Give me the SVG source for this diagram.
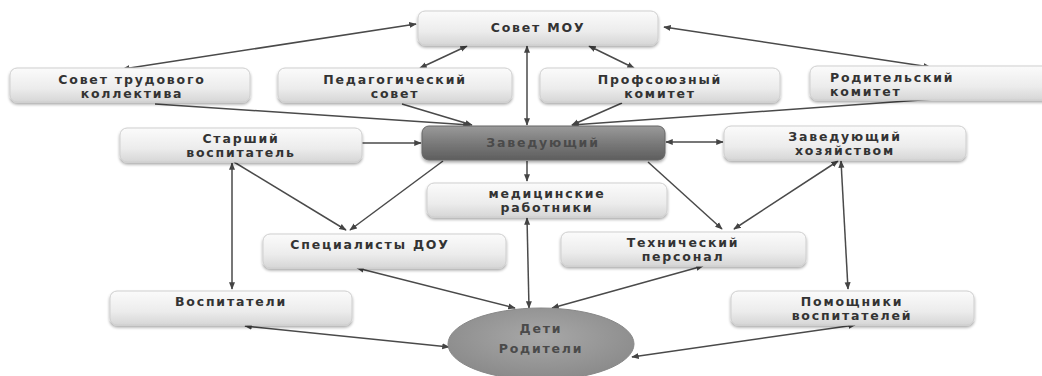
<svg xmlns="http://www.w3.org/2000/svg" width="1042" height="376" viewBox="0 0 1042 376">
<defs>
<linearGradient id="gn" x1="0" y1="0" x2="0" y2="1">
<stop offset="0" stop-color="#fbfbfb"/><stop offset="0.6" stop-color="#ececec"/><stop offset="1" stop-color="#d6d6d6"/>
</linearGradient>
<linearGradient id="gd" x1="0" y1="0" x2="0" y2="1">
<stop offset="0" stop-color="#9a9a9a"/><stop offset="0.5" stop-color="#7a7a7a"/><stop offset="1" stop-color="#5e5e5e"/>
</linearGradient>
<radialGradient id="ge" cx="0.5" cy="0.4" r="0.6">
<stop offset="0" stop-color="#a8a8a8"/><stop offset="1" stop-color="#8a8a8a"/>
</radialGradient>
<filter id="sh" x="-5%" y="-20%" width="110%" height="150%">
<feGaussianBlur in="SourceAlpha" stdDeviation="1.5"/><feOffset dx="0" dy="2"/>
<feComponentTransfer><feFuncA type="linear" slope="0.35"/></feComponentTransfer>
<feMerge><feMergeNode/><feMergeNode in="SourceGraphic"/></feMerge>
</filter>
<marker id="ah" viewBox="0 0 10 10" refX="9" refY="5" markerWidth="5" markerHeight="5" orient="auto-start-reverse">
<path d="M0,1 L10,5 L0,9 z" fill="#444"/>
</marker>
</defs>
<style>
.n{fill:url(#gn);stroke:#cfcfcf;stroke-width:1;filter:url(#sh)}
.d{fill:url(#gd);stroke:#666;stroke-width:1;filter:url(#sh)}
.e{fill:url(#ge);stroke:#888;stroke-width:1}
text{font-family:"DejaVu Sans","Liberation Sans",sans-serif;font-weight:bold;font-size:12.5px;letter-spacing:1.8px;fill:#333;text-anchor:middle}
.l{text-anchor:start}
.td{fill:#4a4a4a}
.c{stroke:#4a4a4a;stroke-width:1.5;fill:none}
.b{marker-start:url(#ah);marker-end:url(#ah)}
.a{marker-end:url(#ah)}
</style>
<rect width="1042" height="376" fill="#ffffff"/>
<g id="connectors">
<line class="c b" x1="416" y1="24" x2="123" y2="69"/>
<line class="c b" x1="467" y1="46" x2="420" y2="68"/>
<line class="c b" x1="589" y1="46" x2="634" y2="68"/>
<line class="c b" x1="664" y1="27" x2="930" y2="67"/>
<line class="c b" x1="527" y1="46" x2="527" y2="125"/>
<line class="c a" x1="155" y1="104" x2="470" y2="125"/>
<line class="c a" x1="402" y1="104" x2="472" y2="125"/>
<line class="c a" x1="622" y1="103" x2="572" y2="125"/>
<line class="c a" x1="935" y1="99" x2="572" y2="125"/>
<line class="c a" x1="362" y1="143" x2="421" y2="143"/>
<line class="c b" x1="666" y1="142" x2="723" y2="142"/>
<line class="c a" x1="527" y1="161" x2="527" y2="181"/>
<line class="c a" x1="234" y1="162" x2="346" y2="230"/>
<line class="c a" x1="443" y1="161" x2="350" y2="230"/>
<line class="c b" x1="232" y1="163" x2="232" y2="289"/>
<line class="c a" x1="648" y1="162" x2="722" y2="229"/>
<line class="c b" x1="838" y1="161" x2="734" y2="229"/>
<line class="c b" x1="841" y1="161" x2="848" y2="289"/>
<line class="c b" x1="357" y1="268" x2="515" y2="308"/>
<line class="c b" x1="527" y1="218" x2="529" y2="308"/>
<line class="c b" x1="703" y1="266" x2="552" y2="308"/>
<line class="c b" x1="245" y1="326" x2="449" y2="347"/>
<line class="c b" x1="855" y1="325" x2="632" y2="357"/>
</g>
<g id="sovet-mou"><rect class="n" x="418" y="11" width="240" height="34" rx="7"/><text x="538" y="32">Совет МОУ</text></g>
<g id="sovet-trud"><rect class="n" x="10" y="68" width="240" height="34" rx="7"/><text x="132" y="84">Совет трудового</text><text x="132" y="98">коллектива</text></g>
<g id="ped-sovet"><rect class="n" x="278" y="68" width="234" height="34" rx="7"/><text x="395" y="84">Педагогический</text><text x="395" y="98">совет</text></g>
<g id="prof-kom"><rect class="n" x="540" y="68" width="240" height="34" rx="7"/><text x="660" y="84">Профсоюзный</text><text x="660" y="98">комитет</text></g>
<g id="rod-kom"><rect class="n" x="810" y="66" width="240" height="34" rx="7"/><text class="l" x="830" y="82">Родительский</text><text class="l" x="830" y="96">комитет</text></g>
<g id="st-vosp"><rect class="n" x="120" y="128" width="242" height="34" rx="7"/><text x="241" y="143">Старший</text><text x="241" y="157">воспитатель</text></g>
<g id="zav"><rect class="d" x="422" y="126" width="243" height="34" rx="7"/><text class="td" x="543" y="147">Заведующий</text></g>
<g id="zav-hoz"><rect class="n" x="724" y="126" width="242" height="34" rx="7"/><text x="845" y="141">Заведующий</text><text x="845" y="155">хозяйством</text></g>
<g id="med"><rect class="n" x="427" y="183" width="240" height="34" rx="7"/><text x="547" y="198">медицинские</text><text x="547" y="212">работники</text></g>
<g id="spec"><rect class="n" x="263" y="234" width="243" height="34" rx="7"/><text x="370" y="249">Специалисты ДОУ</text></g>
<g id="tech"><rect class="n" x="561" y="232" width="245" height="34" rx="7"/><text x="683" y="247">Технический</text><text x="683" y="261">персонал</text></g>
<g id="vosp"><rect class="n" x="110" y="291" width="242" height="34" rx="7"/><text x="231" y="306">Воспитатели</text></g>
<g id="pom"><rect class="n" x="731" y="291" width="243" height="34" rx="7"/><text x="852" y="306">Помощники</text><text x="852" y="320">воспитателей</text></g>
<g id="deti"><ellipse class="e" cx="541" cy="344" rx="93" ry="36"/><text class="td" x="541" y="333">Дети</text><text class="td" x="541" y="353">Родители</text></g>
</svg>
